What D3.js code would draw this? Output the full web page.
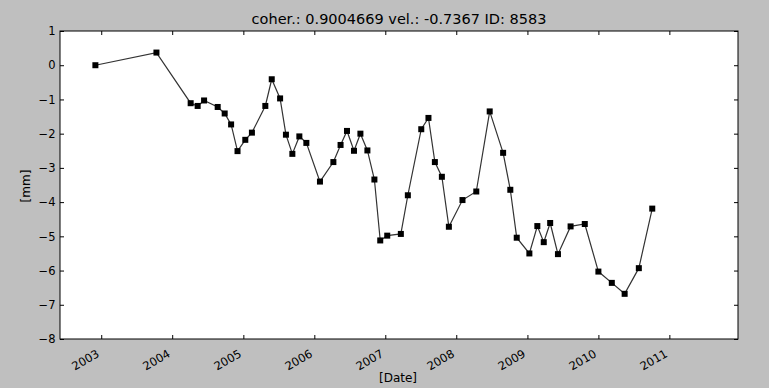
<!DOCTYPE html>
<html>
<head>
<meta charset="utf-8">
<script src="https://cdn.jsdelivr.net/npm/d3@7"></script>
<style>
  html, body { margin: 0; padding: 0; background: #bfbfbf; }
  svg { display: block; }
  text { font-family: "DejaVu Sans", sans-serif; fill: #000; }
</style>
</head>
<body>
<svg id="chart" width="769" height="388"></svg>
<script>
const titleText = "coher.: 0.9004669 vel.: -0.7367 ID: 8583";
const xLabel = "[Date]";
const yLabel = "[mm]";

const dates = [
  "2002-12-02","2003-10-12","2004-04-05","2004-05-11","2004-06-13","2004-08-22",
  "2004-09-27","2004-10-30","2004-12-02","2005-01-11","2005-02-14","2005-04-24",
  "2005-05-27","2005-07-09","2005-08-08","2005-09-10","2005-10-16","2005-11-21",
  "2006-01-30","2006-04-09","2006-05-16","2006-06-18","2006-07-24","2006-08-26",
  "2006-10-01","2006-11-06","2006-12-06","2007-01-11","2007-03-22","2007-04-27",
  "2007-07-05","2007-08-11","2007-09-13","2007-10-19","2007-11-24","2008-02-02",
  "2008-04-13","2008-06-21","2008-08-29","2008-10-05","2008-11-07","2009-01-11",
  "2009-02-21","2009-03-26","2009-04-28","2009-06-07","2009-08-11","2009-10-23",
  "2010-01-01","2010-03-11","2010-05-16","2010-07-28","2010-10-05"
];
const values = [
  0.00, 0.37, -1.11, -1.19, -1.03, -1.22,
  -1.41, -1.73, -2.51, -2.18, -1.97, -1.19,
  -0.41, -0.97, -2.03, -2.59, -2.08, -2.27,
  -3.40, -2.83, -2.33, -1.92, -2.50, -2.00,
  -2.49, -3.34, -5.12, -4.98, -4.93, -3.80,
  -1.87, -1.54, -2.83, -3.26, -4.72, -3.94,
  -3.69, -1.35, -2.56, -3.64, -5.04, -5.50,
  -4.70, -5.17, -4.61, -5.52, -4.71, -4.64,
  -6.03, -6.36, -6.68, -5.93, -4.19
];
const xDomain = ["2002-06-03", "2011-12-20"];
const xTickYears = [2003, 2004, 2005, 2006, 2007, 2008, 2009, 2010, 2011];
const yDomain = [-8, 1];
const yTicks = [1, 0, -1, -2, -3, -4, -5, -6, -7, -8];

const parse = d3.timeParse("%Y-%m-%d");
const data = dates.map((d, i) => ({ date: parse(d), value: values[i] }));

const margin = { left: 60, right: 31, top: 31, bottom: 49 };
const W = 769, H = 388;
const svg = d3.select("#chart");

const x = d3.scaleTime().domain(xDomain.map(parse)).range([margin.left, W - margin.right]);
const y = d3.scaleLinear().domain(yDomain).range([H - margin.bottom, margin.top]);

// plot background
svg.append("rect")
  .attr("x", margin.left).attr("y", margin.top)
  .attr("width", W - margin.left - margin.right)
  .attr("height", H - margin.top - margin.bottom)
  .attr("fill", "#fff");

const tickLen = 4;
const xTickDates = xTickYears.map(yr => new Date(yr, 0, 1));

// bottom axis (inward ticks)
const xAxisB = d3.axisBottom(x).tickValues(xTickDates).tickSizeInner(-tickLen).tickSizeOuter(0).tickFormat(d3.timeFormat("%Y"));
const gxb = svg.append("g").attr("transform", `translate(0,${H - margin.bottom})`).call(xAxisB);
gxb.select(".domain").remove();
gxb.selectAll(".tick line").attr("stroke", "#000");
gxb.selectAll(".tick text")
  .attr("font-size", 11.5)
  .attr("text-anchor", "end")
  .attr("y", 0).attr("dy", 0)
  .attr("transform", "translate(-1.5,17) rotate(-30)");

// top axis ticks
const xAxisT = d3.axisTop(x).tickValues(xTickDates).tickSizeInner(-tickLen).tickSizeOuter(0).tickFormat("");
const gxt = svg.append("g").attr("transform", `translate(0,${margin.top})`).call(xAxisT);
gxt.select(".domain").remove();
gxt.selectAll(".tick line").attr("stroke", "#000");

// left axis
const yAxisL = d3.axisLeft(y).tickValues(yTicks).tickSizeInner(-tickLen).tickSizeOuter(0)
  .tickPadding(4.5).tickFormat(d => d3.format("d")(d).replace("-", "\u2212"));
const gyl = svg.append("g").attr("transform", `translate(${margin.left},0)`).call(yAxisL);
gyl.select(".domain").remove();
gyl.selectAll(".tick line").attr("stroke", "#000");
gyl.selectAll(".tick text").attr("font-size", 11.5);

// right axis ticks
const yAxisR = d3.axisRight(y).tickValues(yTicks).tickSizeInner(-tickLen).tickSizeOuter(0).tickFormat("");
const gyr = svg.append("g").attr("transform", `translate(${W - margin.right},0)`).call(yAxisR);
gyr.select(".domain").remove();
gyr.selectAll(".tick line").attr("stroke", "#000");

svg.selectAll(".tick text").attr("font-family", "DejaVu Sans, sans-serif").attr("fill", "#000");

// frame
svg.append("rect")
  .attr("x", margin.left).attr("y", margin.top)
  .attr("width", W - margin.left - margin.right)
  .attr("height", H - margin.top - margin.bottom)
  .attr("fill", "none").attr("stroke", "#000").attr("stroke-width", 1);

// line
const line = d3.line().x(d => x(d.date)).y(d => y(d.value));
svg.append("path").datum(data)
  .attr("d", line)
  .attr("fill", "none")
  .attr("stroke", "#333")
  .attr("stroke-width", 1.2);

// markers
const ms = 6;
svg.append("g").selectAll("rect").data(data).join("rect")
  .attr("x", d => x(d.date) - ms / 2)
  .attr("y", d => y(d.value) - ms / 2)
  .attr("width", ms).attr("height", ms)
  .attr("fill", "#000");

// title
svg.append("text")
  .attr("x", (margin.left + W - margin.right) / 2).attr("y", 24)
  .attr("text-anchor", "middle").attr("font-size", 14.5)
  .text(titleText);

// x label
svg.append("text")
  .attr("x", 398).attr("y", 382)
  .attr("text-anchor", "middle").attr("font-size", 12)
  .text(xLabel);

// y label
svg.append("text")
  .attr("transform", `translate(30,186) rotate(-90)`)
  .attr("text-anchor", "middle").attr("font-size", 12)
  .text(yLabel);
</script>
</body>
</html>
